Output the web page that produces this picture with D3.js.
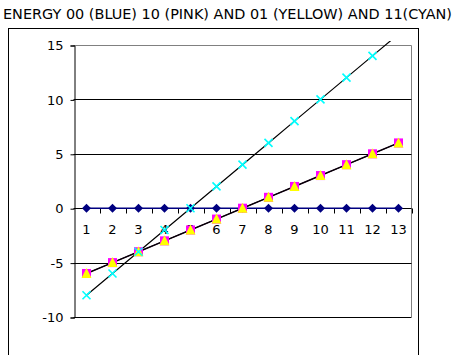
<!DOCTYPE html>
<html>
<head>
<meta charset="utf-8">
<script src="https://cdn.jsdelivr.net/npm/d3@7"></script>
<style>
  html, body { margin: 0; padding: 0; background: #fff; }
  svg { display: block; }
  text { font-family: "DejaVu Sans", Verdana, sans-serif; fill: #000; }
</style>
</head>
<body>
<svg id="chart" width="456" height="355"></svg>
<script>
// Energy levels per state, indexed 1..13
const categories = [1, 2, 3, 4, 5, 6, 7, 8, 9, 10, 11, 12, 13];
const energy00 = [0, 0, 0, 0, 0, 0, 0, 0, 0, 0, 0, 0, 0];
const energy10 = [-6, -5, -4, -3, -2, -1, 0, 1, 2, 3, 4, 5, 6];
const energy01 = [-6, -5, -4, -3, -2, -1, 0, 1, 2, 3, 4, 5, 6];
const energy11 = [-8, -6, -4, -2, 0, 2, 4, 6, 8, 10, 12, 14, 16];
const yTicks = [-10, -5, 0, 5, 10, 15];
const titleText = "ENERGY 00 (BLUE) 10 (PINK) AND 01 (YELLOW) AND 11(CYAN)";

const svg = d3.select("#chart");

const plot = { left: 73.5, right: 411.5, top: 45, bottom: 317 };

const x = d3.scaleBand()
  .domain(categories)
  .range([plot.left, plot.right])
  .paddingInner(0).paddingOuter(0);
const cx = d => x(d) + x.bandwidth() / 2;

const y = d3.scaleLinear().domain([-10, 15]).range([plot.bottom, plot.top]);

// title
svg.append("text")
  .attr("x", 3).attr("y", 19)
  .attr("font-size", 13.5)
  .attr("textLength", 449)
  .attr("lengthAdjust", "spacingAndGlyphs")
  .text(titleText);

// chart frame
svg.append("rect")
  .attr("x", 8.5).attr("y", 28.5)
  .attr("width", 410).attr("height", 340)
  .attr("fill", "none").attr("stroke", "#000");

// plot area border (top / right)
svg.append("path")
  .attr("d", `M${plot.left},${plot.top + 0.5}H${plot.right}V${plot.bottom}`)
  .attr("fill", "none").attr("stroke", "#808080");

// horizontal gridlines
svg.append("g").selectAll("line")
  .data(yTicks.filter(t => t !== 15 && t !== 0))
  .join("line")
  .attr("x1", plot.left).attr("x2", plot.right)
  .attr("y1", d => Math.round(y(d)) + 0.5).attr("y2", d => Math.round(y(d)) + 0.5)
  .attr("stroke", "#000");

// y axis
const yAxis = d3.axisLeft(y).tickValues(yTicks).tickSize(4).tickPadding(7)
  .tickFormat(d => String(d));
const yg = svg.append("g")
  .attr("transform", `translate(${Math.round(plot.left) + 0.5},0.5)`)
  .call(yAxis);
yg.selectAll("text").attr("font-size", 13).attr("font-family", "DejaVu Sans, sans-serif");
yg.select(".domain").attr("stroke", "#000");

// x axis crossing at zero, with ticks between categories
const y0 = Math.round(y(0)) + 0.5;
svg.append("line")
  .attr("x1", plot.left).attr("x2", plot.right)
  .attr("y1", y0).attr("y2", y0)
  .attr("stroke", "#000");
svg.append("g").selectAll("line")
  .data(categories.slice(1).concat(["end"]))
  .join("line")
  .attr("x1", d => Math.round(d === "end" ? plot.right : x(d)) + 0.5)
  .attr("x2", d => Math.round(d === "end" ? plot.right : x(d)) + 0.5)
  .attr("y1", y0).attr("y2", y0 + 5)
  .attr("stroke", "#000");
svg.append("g").selectAll("text")
  .data(categories)
  .join("text")
  .attr("x", d => cx(d))
  .attr("y", y0 + 25)
  .attr("text-anchor", "middle")
  .attr("font-size", 13)
  .text(d => d);

// clipping for the lines
svg.append("clipPath").attr("id", "clip")
  .append("rect")
  .attr("x", plot.left).attr("y", plot.top - 4)
  .attr("width", plot.right - plot.left).attr("height", plot.bottom - plot.top + 4);

const line = d3.line().x((d, i) => cx(categories[i])).y(d => y(d));
const lines = svg.append("g").attr("clip-path", "url(#clip)");

lines.append("path").datum(energy11)
  .attr("d", line).attr("fill", "none").attr("stroke", "#000").attr("stroke-width", 1.2);
lines.append("path").datum(energy10)
  .attr("d", line).attr("fill", "none").attr("stroke", "#200020").attr("stroke-width", 1.5);
lines.append("path").datum(energy01)
  .attr("d", line).attr("fill", "none").attr("stroke", "#000").attr("stroke-width", 1);
lines.append("path").datum(energy00)
  .attr("d", line).attr("fill", "none").attr("stroke", "#000080").attr("stroke-width", 1.5);

const inPlot = v => v >= -10 && v <= 15;

// blue diamonds
svg.append("g").selectAll("path")
  .data(energy00.map((v, i) => [categories[i], v]).filter(d => inPlot(d[1])))
  .join("path")
  .attr("transform", d => `translate(${cx(d[0])},${y(d[1])})`)
  .attr("d", "M0,-4.5L4.5,0L0,4.5L-4.5,0Z")
  .attr("fill", "#000080");

// pink squares
svg.append("g").selectAll("rect")
  .data(energy10.map((v, i) => [categories[i], v]).filter(d => inPlot(d[1])))
  .join("rect")
  .attr("x", d => cx(d[0]) - 4.5).attr("y", d => y(d[1]) - 4.5)
  .attr("width", 9).attr("height", 9)
  .attr("fill", "#FF00FF");

// yellow triangles
svg.append("g").selectAll("path")
  .data(energy01.map((v, i) => [categories[i], v]).filter(d => inPlot(d[1])))
  .join("path")
  .attr("transform", d => `translate(${cx(d[0])},${y(d[1])})`)
  .attr("d", "M0,-5.5L5,4.5L-5,4.5Z")
  .attr("fill", "#FFFF00");

// cyan crosses
svg.append("g").selectAll("path")
  .data(energy11.map((v, i) => [categories[i], v]).filter(d => inPlot(d[1])))
  .join("path")
  .attr("transform", d => `translate(${cx(d[0])},${y(d[1])})`)
  .attr("d", "M-4,-4L4,4M4,-4L-4,4")
  .attr("stroke", "#00FFFF").attr("stroke-width", 1.6).attr("fill", "none");
</script>
</body>
</html>
